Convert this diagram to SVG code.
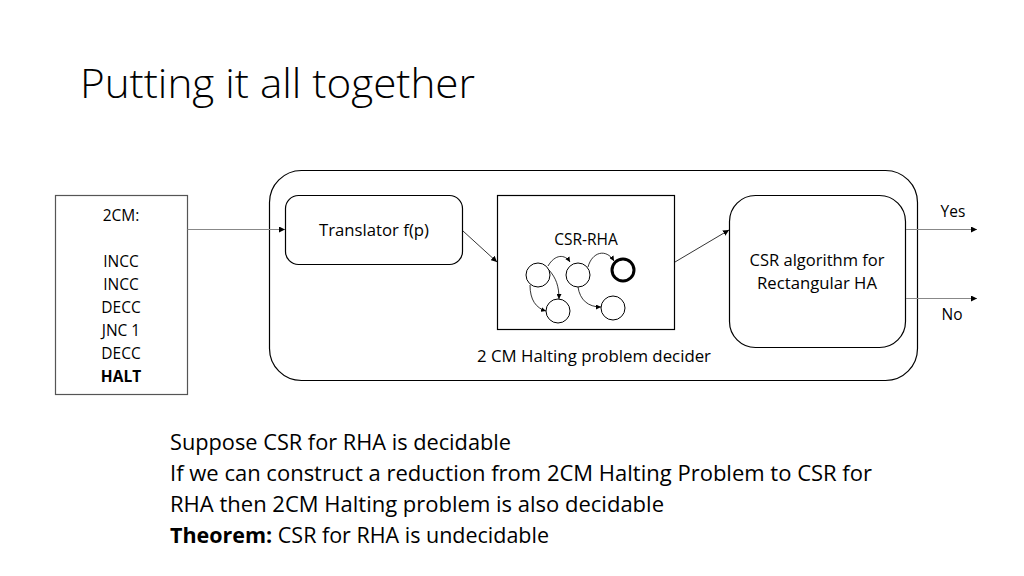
<svg xmlns="http://www.w3.org/2000/svg" width="1024" height="576" viewBox="0 0 1024 576">
<defs>
<marker id="ah" viewBox="0 0 10 10" refX="10" refY="5" markerWidth="6" markerHeight="6" orient="auto" markerUnits="userSpaceOnUse"><path d="M0,0 L10,5 L0,10 z" fill="#000"/></marker>
<marker id="sah" viewBox="0 0 10 10" refX="10" refY="5" markerWidth="5" markerHeight="5" orient="auto" markerUnits="userSpaceOnUse"><path d="M0,0 L10,5 L0,10 z" fill="#000"/></marker>
</defs>
<style>
text{font-family:"Open Sans","Noto Sans","Liberation Sans",sans-serif;fill:#000;font-variant-ligatures:none}
.box{fill:#fff;stroke:#000;stroke-width:1.2}
.lbl{font-size:15.5px;text-anchor:middle}
.conn{stroke:#000;stroke-width:0.8;fill:none}
.g{stroke:#888;stroke-width:1.2}
.st{fill:#fff;stroke:#000;stroke-width:1}
.body{font-size:21.5px}
</style>
<rect width="1024" height="576" fill="#fff"/>
<text x="80" y="98" font-size="40" font-weight="300" textLength="395" lengthAdjust="spacingAndGlyphs">Putting it all together</text>

<g id="decider">
<rect class="box" x="269.5" y="170.5" width="648" height="210" rx="32"/>
<text class="lbl" x="594" y="362" textLength="234" lengthAdjust="spacingAndGlyphs">2 CM Halting problem decider</text>
</g>
<g id="program">
<rect class="box" x="55.5" y="195.5" width="132" height="199" style="stroke:#555"/>
<text class="lbl" x="121" y="221">2CM:</text>
<text class="lbl" x="121" y="267">INCC</text>
<text class="lbl" x="121" y="290">INCC</text>
<text class="lbl" x="121" y="313">DECC</text>
<text class="lbl" x="121" y="336">JNC 1</text>
<text class="lbl" x="121" y="359">DECC</text>
<text class="lbl" x="121" y="382" font-weight="bold">HALT</text>
</g>
<g id="translator">
<rect class="box" x="285.5" y="195.5" width="177" height="69" rx="13"/>
<text class="lbl" x="374" y="236" textLength="110" lengthAdjust="spacingAndGlyphs">Translator f(p)</text>
</g>
<g id="csr-rha">
<rect class="box" x="497.5" y="195.5" width="177" height="134"/>
<text class="lbl" x="586" y="245">CSR-RHA</text>
<circle class="st" cx="538" cy="275" r="12"/>
<circle class="st" cx="578" cy="275" r="12"/>
<circle cx="623" cy="270" r="11" fill="#fff" stroke="#000" stroke-width="3"/>
<circle class="st" cx="558" cy="311" r="12"/>
<circle class="st" cx="613" cy="308" r="12"/>
<path class="conn" d="M548,266 C555,254 565,254 570,262" marker-end="url(#sah)"/>
<path class="conn" d="M549,270 C556,278 559,286 559,299" marker-end="url(#sah)"/>
<path class="conn" d="M530,285 C530,300 536,308 546,311" marker-end="url(#sah)"/>
<path class="conn" d="M588,267 C592,252 606,248 614,261" marker-end="url(#sah)"/>
<path class="conn" d="M578,287 C580,300 588,307 601,307" marker-end="url(#sah)"/>
</g>
<g id="csr-algorithm">
<rect class="box" x="729.5" y="195.5" width="176" height="152" rx="26"/>
<text class="lbl" x="817" y="266" textLength="135" lengthAdjust="spacingAndGlyphs">CSR algorithm for</text>
<text class="lbl" x="817" y="289" textLength="120" lengthAdjust="spacingAndGlyphs">Rectangular HA</text>
</g>
<g id="connectors">
<line class="conn g" x1="187.5" y1="229.5" x2="285" y2="229.5" marker-end="url(#ah)"/>
<line class="conn" x1="463" y1="231" x2="497" y2="262" marker-end="url(#ah)"/>
<line class="conn" x1="675" y1="262" x2="729" y2="230" marker-end="url(#ah)"/>
<line class="conn g" x1="906" y1="229.5" x2="977" y2="229.5" marker-end="url(#ah)"/>
<line class="conn g" x1="906" y1="298.5" x2="977" y2="298.5" marker-end="url(#ah)"/>
<text class="lbl" x="953" y="217">Yes</text>
<text class="lbl" x="952" y="320">No</text>
</g>
<text class="body" x="170" y="450" textLength="341" lengthAdjust="spacingAndGlyphs">Suppose CSR for RHA is decidable</text>
<text class="body" x="170" y="481" textLength="702" lengthAdjust="spacingAndGlyphs">If we can construct a reduction from 2CM Halting Problem to CSR for</text>
<text class="body" x="170" y="512" textLength="494" lengthAdjust="spacingAndGlyphs">RHA then 2CM Halting problem is also decidable</text>
<text class="body" x="170" y="543" textLength="379" lengthAdjust="spacingAndGlyphs"><tspan font-weight="bold">Theorem:</tspan> CSR for RHA is undecidable</text>
</svg>
